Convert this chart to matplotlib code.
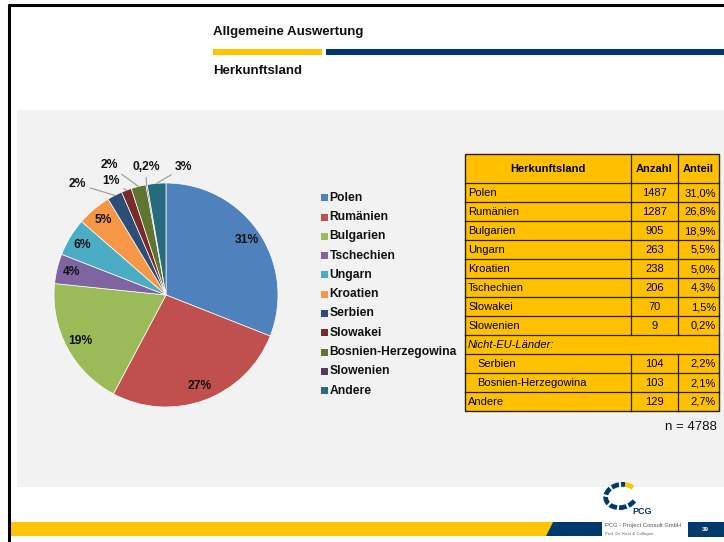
import numpy as np
import matplotlib
matplotlib.use("Agg")
import matplotlib.pyplot as plt
from matplotlib.patches import Rectangle, Polygon, Arc

plt.rcParams['font.family'] = ['Liberation Sans', 'DejaVu Sans']

# ---------------- data ----------------
countries = ["Polen", "Rumänien", "Bulgarien", "Tschechien", "Ungarn", "Kroatien",
             "Serbien", "Slowakei", "Bosnien-Herzegowina", "Slowenien", "Andere"]
counts = [1487, 1287, 905, 206, 263, 238, 104, 70, 103, 9, 129]
pie_labels = ["31%", "27%", "19%", "4%", "6%", "5%", "2%", "1%", "2%", "0,2%", "3%"]
colors = ["#4F81BD", "#C0504D", "#9BBB59", "#8064A2", "#4BACC6", "#F79646",
          "#2C4D75", "#772C2A", "#5F7530", "#4D3B62", "#276A7C"]

table_header = ["Herkunftsland", "Anzahl", "Anteil"]
table_names = ["Polen", "Rumänien", "Bulgarien", "Ungarn", "Kroatien", "Tschechien",
               "Slowakei", "Slowenien", "Nicht-EU-Länder:", "Serbien",
               "Bosnien-Herzegowina", "Andere"]
table_counts = ["1487", "1287", "905", "263", "238", "206", "70", "9", "", "104", "103", "129"]
table_shares = ["31,0%", "26,8%", "18,9%", "5,5%", "5,0%", "4,3%", "1,5%", "0,2%", "",
                "2,2%", "2,1%", "2,7%"]
n_total = 4788

title = "Allgemeine Auswertung"
subtitle = "Herkunftsland"

# ---------------- figure ----------------
W, H = 724, 542
fig = plt.figure(figsize=(W / 100, H / 100), dpi=100)
fig.patch.set_facecolor("white")
bg = fig.add_axes([0, 0, 1, 1])
bg.set_xlim(0, W)
bg.set_ylim(H, 0)
bg.axis("off")

NAVY = "#003A6C"
YELLOW = "#FFC600"

# slide frame
bg.plot([8, W], [5, 5], color="black", lw=2.2, solid_capstyle="butt")
bg.plot([9, 9], [4, H], color="black", lw=2.2, solid_capstyle="butt")

# header
bg.text(213, 32, title, fontsize=9.5, fontweight="bold", va="center", ha="left", color="#111111")
bg.add_patch(Rectangle((213, 49), 109, 5.5, color=YELLOW, lw=0))
bg.add_patch(Rectangle((326, 49), W - 326, 5.5, color=NAVY, lw=0))
bg.text(213, 71, subtitle, fontsize=9.5, fontweight="bold", va="center", ha="left", color="#111111")

# gray content panel
bg.add_patch(Rectangle((17, 110), W - 17, 377, color="#F2F2F2", lw=0))

# footer
bg.add_patch(Polygon([(10, 522), (553, 522), (546, 536), (10, 536)], closed=True, color=YELLOW, lw=0))
bg.add_patch(Polygon([(553, 522), (602, 522), (602, 536), (546, 536)], closed=True, color=NAVY, lw=0))
bg.add_patch(Rectangle((688, 522), 36, 15, color=NAVY, lw=0))
bg.text(705, 529.5, "39", fontsize=4.5, fontweight="bold", color="white", ha="center", va="center")
bg.text(605, 525.5, "PCG - Project Consult GmbH", fontsize=4.2, color="#555555", ha="left", va="center")
bg.text(605, 533.5, "Prof. Dr. Kost & Collegen", fontsize=3.2, color="#666666", ha="left", va="center")
# logo ring
bg.add_patch(Arc((621, 496), 31, 23, angle=-10, theta1=-330, theta2=-60, color=NAVY, lw=3.4,
                 linestyle=(0, (1.6, 0.45))))
bg.add_patch(Arc((621, 496), 31, 23, angle=-10, theta1=-60, theta2=-25, color=YELLOW, lw=3.4))
bg.text(632, 512, "PCG", fontsize=6.5, fontweight="bold", color=NAVY, ha="left", va="center")

# ---------------- pie ----------------
cx, cy, r = 166, 295, 112
ax = fig.add_axes([(cx - r) / W, 1 - (cy + r) / H, 2 * r / W, 2 * r / H])
ax.set_facecolor("none")
wedges, _ = ax.pie(counts, colors=colors, startangle=90, counterclock=False, radius=1,
                   wedgeprops=dict(edgecolor="white", linewidth=0.5))
ax.set_xlim(-1, 1)
ax.set_ylim(-1, 1)
ax.set_aspect("equal")
ax.axis("off")

# outside label positions (pie units) for the small slices
outside = {6: (-0.79, 0.99), 7: (-0.49, 1.02), 8: (-0.51, 1.16), 9: (-0.18, 1.14), 10: (0.16, 1.14)}
for i, w in enumerate(wedges):
    mid = np.deg2rad((w.theta1 + w.theta2) / 2)
    if i in outside:
        ex, ey = np.cos(mid), np.sin(mid)
        ax.annotate(pie_labels[i], xy=(ex, ey), xytext=outside[i], fontsize=8.7, fontweight="bold",
                    ha="center", va="center", color="#111111", annotation_clip=False,
                    arrowprops=dict(arrowstyle="-", color="#A0A0A0", lw=0.9, shrinkA=1, shrinkB=0))
    else:
        rr = 0.87
        ax.text(rr * np.cos(mid), rr * np.sin(mid), pie_labels[i], fontsize=8.7, fontweight="bold",
                ha="center", va="center", color="#111111")

# ---------------- legend ----------------
ly0, ldy = 197.7, 19.3
for i, name in enumerate(countries):
    y = ly0 + i * ldy
    bg.add_patch(Rectangle((320.5, y - 3.5), 7, 7, color=colors[i], lw=0))
    bg.text(329.5, y, name, fontsize=8.7, fontweight="bold", ha="left", va="center", color="#111111")

# ---------------- table ----------------
xs = [465, 631, 678, 719]
top, hdr_h, row_h = 154, 29, 19
edge = "#2B2100"
nrows = len(table_names)
bottom = top + hdr_h + nrows * row_h
bg.add_patch(Rectangle((xs[0], top), xs[-1] - xs[0], bottom - top, facecolor="#FFC000",
                       edgecolor=edge, lw=1.0))
ys = [top + hdr_h + k * row_h for k in range(nrows)]
for y in ys:
    bg.plot([xs[0], xs[-1]], [y, y], color=edge, lw=0.9)
merged = table_names.index("Nicht-EU-Länder:")
for x in xs[1:-1]:
    bg.plot([x, x], [top, top + hdr_h + merged * row_h], color=edge, lw=0.9)
    bg.plot([x, x], [top + hdr_h + (merged + 1) * row_h, bottom], color=edge, lw=0.9)

hy = top + hdr_h / 2
bg.text((xs[0] + xs[1]) / 2, hy, table_header[0], fontsize=8, fontweight="bold", ha="center", va="center")
bg.text((xs[1] + xs[2]) / 2, hy, table_header[1], fontsize=8, fontweight="bold", ha="center", va="center")
bg.text((xs[2] + xs[3]) / 2, hy, table_header[2], fontsize=8, fontweight="bold", ha="center", va="center")
for k, name in enumerate(table_names):
    y = top + hdr_h + k * row_h + row_h / 2 + 0.5
    if k == merged:
        bg.text(xs[0] + 3, y, name, fontsize=8, style="italic", ha="left", va="center")
        continue
    indent = 12 if k in (merged + 1, merged + 2) else 3
    bg.text(xs[0] + indent, y, name, fontsize=8, ha="left", va="center")
    bg.text((xs[1] + xs[2]) / 2, y, table_counts[k], fontsize=8, ha="center", va="center")
    bg.text(xs[3] - 3, y, table_shares[k], fontsize=8, ha="right", va="center")

bg.text(717, 427, f"n = {n_total}", fontsize=9.5, ha="right", va="center", color="#111111")

fig.savefig("out.png", dpi=100, facecolor="white")
